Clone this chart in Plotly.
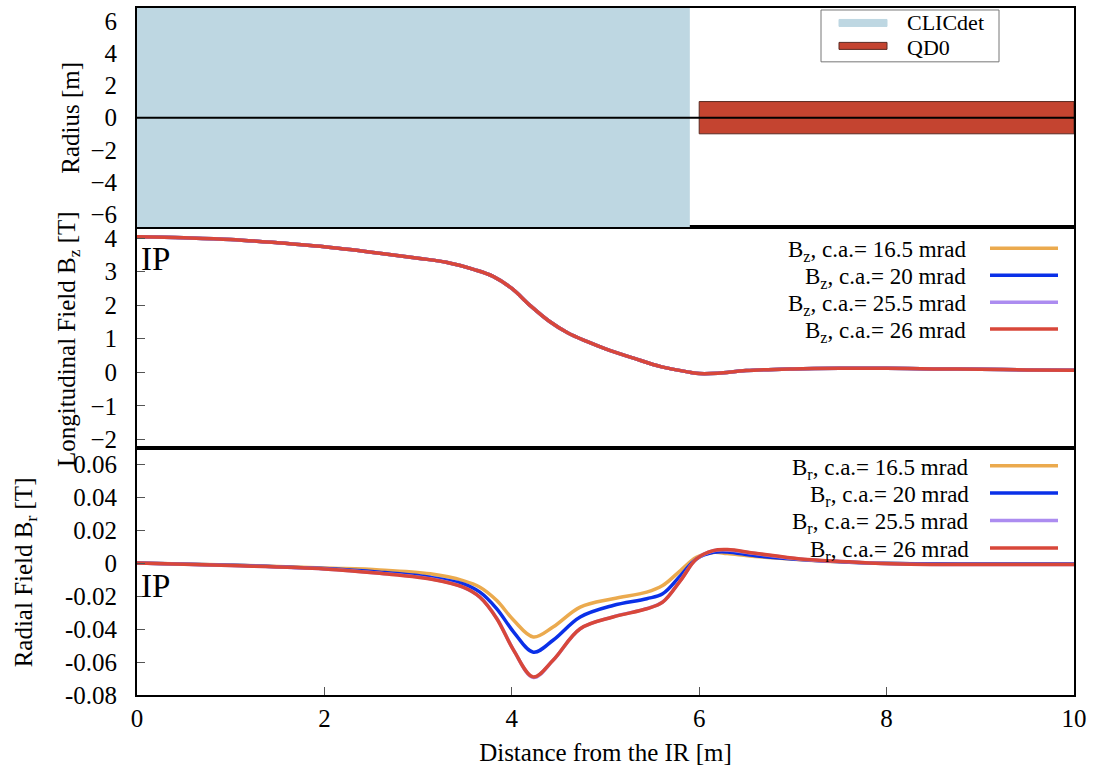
import plotly.graph_objects as go

# ---------------- data ----------------
# Top panel: geometry [m]
clicdet_z = [0.0, 5.9]          # detector longitudinal extent
clicdet_r = 6.8                 # detector radius (fills the panel)
qd0_z = [6.0, 10.0]             # QD0 longitudinal extent
qd0_r = 1.0                     # QD0 radius

# Middle panel: longitudinal field Bz [T]
bz_dist = [0.0, 0.5, 1.0, 1.5, 2.0, 2.5, 3.0, 3.3, 3.6, 3.8, 4.0, 4.2, 4.4, 4.6, 4.8,
           5.0, 5.3, 5.6, 5.9, 6.0, 6.2, 6.5, 7.0, 7.5, 8.0, 8.5, 9.0, 9.5, 10.0]
bz_165 = [4.04, 4.01, 3.96, 3.86, 3.74, 3.58, 3.40, 3.28, 3.06, 2.86, 2.50, 1.98, 1.52, 1.17, 0.92,
          0.70, 0.42, 0.16, 0.0, -0.04, -0.03, 0.05, 0.10, 0.12, 0.12, 0.10, 0.09, 0.07, 0.06]
bz_20 = list(bz_165)
bz_255 = list(bz_165)
bz_26 = list(bz_165)

# Bottom panel: radial field Br [T]
br_dist = [0.0, 1.0, 2.0, 2.59, 3.13, 3.48, 3.66, 3.84, 4.02, 4.23, 4.44, 4.73, 5.08, 5.44,
           5.61, 5.80, 5.97, 6.15, 6.30, 6.6, 7.08, 7.6, 8.14, 9.0, 10.0]
br_165 = [0.0, -0.0012, -0.0030, -0.0041, -0.0065, -0.0106, -0.0146, -0.0227, -0.0347, -0.0448,
          -0.0388, -0.0267, -0.0216, -0.0176, -0.0136, -0.0045, 0.0035, 0.0065, 0.0058, 0.0040,
          0.0020, 0.0005, -0.0003, -0.0005, -0.0005]
br_20 = [0.0, -0.0013, -0.0033, -0.0055, -0.0086, -0.0126, -0.0176, -0.0277, -0.0418, -0.0540,
         -0.0468, -0.0327, -0.0257, -0.0216, -0.0186, -0.0076, 0.0025, 0.0065, 0.0068, 0.0045,
         0.0022, 0.0006, -0.0003, -0.0005, -0.0005]
br_255 = [0.0, -0.0015, -0.0035, -0.0061, -0.0095, -0.0145, -0.0206, -0.0335, -0.0528, -0.0694,
          -0.0590, -0.0398, -0.0326, -0.0276, -0.0236, -0.0105, 0.0025, 0.0075, 0.0080, 0.0058,
          0.0024, 0.0007, -0.0005, -0.0008, -0.0008]
br_26 = [0.0, -0.0015, -0.0035, -0.0062, -0.0096, -0.0146, -0.0207, -0.0337, -0.0529, -0.0690,
         -0.0589, -0.0398, -0.0327, -0.0277, -0.0237, -0.0106, 0.0025, 0.0076, 0.0082, 0.0060,
         0.0025, 0.0008, -0.0005, -0.0008, -0.0008]

angles = ["16.5", "20", "25.5", "26"]
colors = ["#EBAA4E", "#0A30E8", "#AC8CF0", "#D8473A"]
geo_names = ["CLICdet", "QD0"]
geo_colors = ["#BED7E2", "#C44430"]

x_ticks = [0, 2, 4, 6, 8, 10]
r_ticks = [-6, -4, -2, 0, 2, 4, 6]
bz_ticks = [-2, -1, 0, 1, 2, 3, 4]
br_ticks = [-0.08, -0.06, -0.04, -0.02, 0, 0.02, 0.04, 0.06]

# ---------------- layout helpers ----------------
W, H = 1094, 775
L, R, T, B = 137, 20, 6, 80
PW, PH = W - L - R, H - T - B


def px_x(p):
    return (p - L) / PW


def px_y(p):
    return (H - B - p) / PH


FONT = "Liberation Serif, Times New Roman, serif"
FS = 25
KEY_FS = 23
fig = go.Figure()

# top panel
fig.add_trace(go.Scatter(
    x=[clicdet_z[0], clicdet_z[1], clicdet_z[1], clicdet_z[0], clicdet_z[0]],
    y=[-clicdet_r, -clicdet_r, clicdet_r, clicdet_r, -clicdet_r],
    fill="toself", fillcolor=geo_colors[0], mode="lines", line=dict(width=0, color=geo_colors[0]),
    name=geo_names[0], xaxis="x3", yaxis="y3", showlegend=False, hoverinfo="skip"))
fig.add_trace(go.Scatter(
    x=[qd0_z[0], qd0_z[1], qd0_z[1], qd0_z[0], qd0_z[0]],
    y=[-qd0_r, -qd0_r, qd0_r, qd0_r, -qd0_r],
    fill="toself", fillcolor=geo_colors[1], mode="lines", line=dict(width=1, color="#5a2a22"),
    name=geo_names[1], xaxis="x3", yaxis="y3", showlegend=False, hoverinfo="skip"))
fig.add_trace(go.Scatter(
    x=[0, 10], y=[0, 0], mode="lines", line=dict(width=2, color="black"),
    showlegend=False, xaxis="x3", yaxis="y3", hoverinfo="skip"))

# middle panel
for vals, col in zip([bz_165, bz_20, bz_255, bz_26], colors):
    fig.add_trace(go.Scatter(x=bz_dist, y=vals, mode="lines",
                             line=dict(color=col, width=3.5, shape="spline", smoothing=1.0),
                             showlegend=False, xaxis="x2", yaxis="y2"))

# bottom panel
for vals, col in zip([br_165, br_20, br_255, br_26], colors):
    fig.add_trace(go.Scatter(x=br_dist, y=vals, mode="lines",
                             line=dict(color=col, width=3.5, shape="spline", smoothing=1.0),
                             showlegend=False, xaxis="x", yaxis="y"))

tickfont = dict(family=FONT, size=FS, color="black")
ax_common = dict(showline=True, linecolor="black", linewidth=2, mirror=True,
                 showgrid=False, zeroline=False, range=[0, 10])
y_common = dict(showline=True, linecolor="black", linewidth=2, mirror=True, showgrid=False,
                zeroline=False, tickfont=tickfont, ticklabelstandoff=13)

y_top = [px_y(226), 1.0]
y_mid = [px_y(447), px_y(226)]
y_bot = [0.0, px_y(447)]

fig.update_layout(
    width=W, height=H,
    margin=dict(l=L, r=R, t=T, b=B),
    plot_bgcolor="white", paper_bgcolor="white",
    font=dict(family=FONT, size=FS, color="black"),
    showlegend=False,
    xaxis=dict(**ax_common, domain=[0, 1], anchor="y", tickvals=x_ticks,
               ticks="inside", ticklen=8, tickcolor="#555", tickfont=tickfont, ticklabelstandoff=0,
               title=dict(text="Distance from the IR [m]", font=dict(family=FONT, size=FS), standoff=12)),
    yaxis=dict(**y_common, domain=y_bot, anchor="x", range=[-0.08, 0.07], tickvals=br_ticks,
               ticktext=[f"{v:g}" for v in br_ticks],
               ticks="inside", ticklen=8, tickcolor="#555"),
    xaxis2=dict(**ax_common, domain=[0, 1], anchor="y2", showticklabels=False, ticks=""),
    yaxis2=dict(**y_common, domain=y_mid, anchor="x2", range=[-2.25, 4.32], tickvals=bz_ticks,
                ticks="inside", ticklen=8, tickcolor="#555"),
    xaxis3=dict(**ax_common, domain=[0, 1], anchor="y3", showticklabels=False, ticks=""),
    yaxis3=dict(**y_common, domain=y_top, anchor="x3", range=[-6.8, 6.8], tickvals=r_ticks,
                ticks=""),
)

annotations = []
shapes = []
# y-axis titles
for txt, cx, cy in [("Radius [m]", 71, 116),
                    ("Longitudinal Field B<sub>z</sub> [T]", 68, 338),
                    ("Radial Field B<sub>r</sub> [T]", 25, 572)]:
    annotations.append(dict(text=txt, xref="paper", yref="paper", x=px_x(cx), y=px_y(cy),
                            xanchor="center", yanchor="middle", textangle=-90, showarrow=False,
                            font=dict(family=FONT, size=FS)))
# IP labels
annotations.append(dict(text="IP", xref="x2", yref="y2", x=0.02, y=3.37, xanchor="left",
                        yanchor="middle", showarrow=False, font=dict(family=FONT, size=33)))
annotations.append(dict(text="IP", xref="x", yref="y", x=0.02, y=-0.0139, xanchor="left",
                        yanchor="middle", showarrow=False, font=dict(family=FONT, size=33)))

# top key box (CLICdet / QD0)
shapes.append(dict(type="rect", xref="paper", yref="paper", x0=px_x(821), x1=px_x(999),
                   y0=px_y(60), y1=px_y(8), line=dict(color="#777", width=1), fillcolor="white"))
for name, col, sy, ty, border in zip(geo_names, geo_colors, [21, 44], [21, 46], [None, "#5a2a22"]):
    shapes.append(dict(type="rect", xref="paper", yref="paper", x0=px_x(839), x1=px_x(887),
                       y0=px_y(sy + 3.5), y1=px_y(sy - 3.5), fillcolor=col,
                       line=dict(color=border if border else col, width=1)))
    annotations.append(dict(text=name, xref="paper", yref="paper", x=px_x(905), y=px_y(ty),
                            xanchor="left", yanchor="middle", showarrow=False,
                            font=dict(family=FONT, size=22)))

# field keys
mid_rows = [247, 274, 301, 328]
bot_rows = [465, 492.5, 520, 547.5]
for sym, rows, xr in [("z", mid_rows, 968), ("r", bot_rows, 971)]:
    for ang, col, ry in zip(angles, colors, rows):
        annotations.append(dict(text=f"B<sub>{sym}</sub>, c.a.= {ang} mrad", xref="paper", yref="paper",
                                x=px_x(xr), y=px_y(ry + 3), xanchor="right", yanchor="middle",
                                showarrow=False, font=dict(family=FONT, size=KEY_FS)))
        shapes.append(dict(type="line", xref="paper", yref="paper", x0=px_x(990), x1=px_x(1058),
                           y0=px_y(ry), y1=px_y(ry), line=dict(color=col, width=3.5)))

fig.update_layout(annotations=annotations, shapes=shapes)
fig.write_html("out.html", post_script="document.body.style.margin='0px';",
               config={"displayModeBar": False})
